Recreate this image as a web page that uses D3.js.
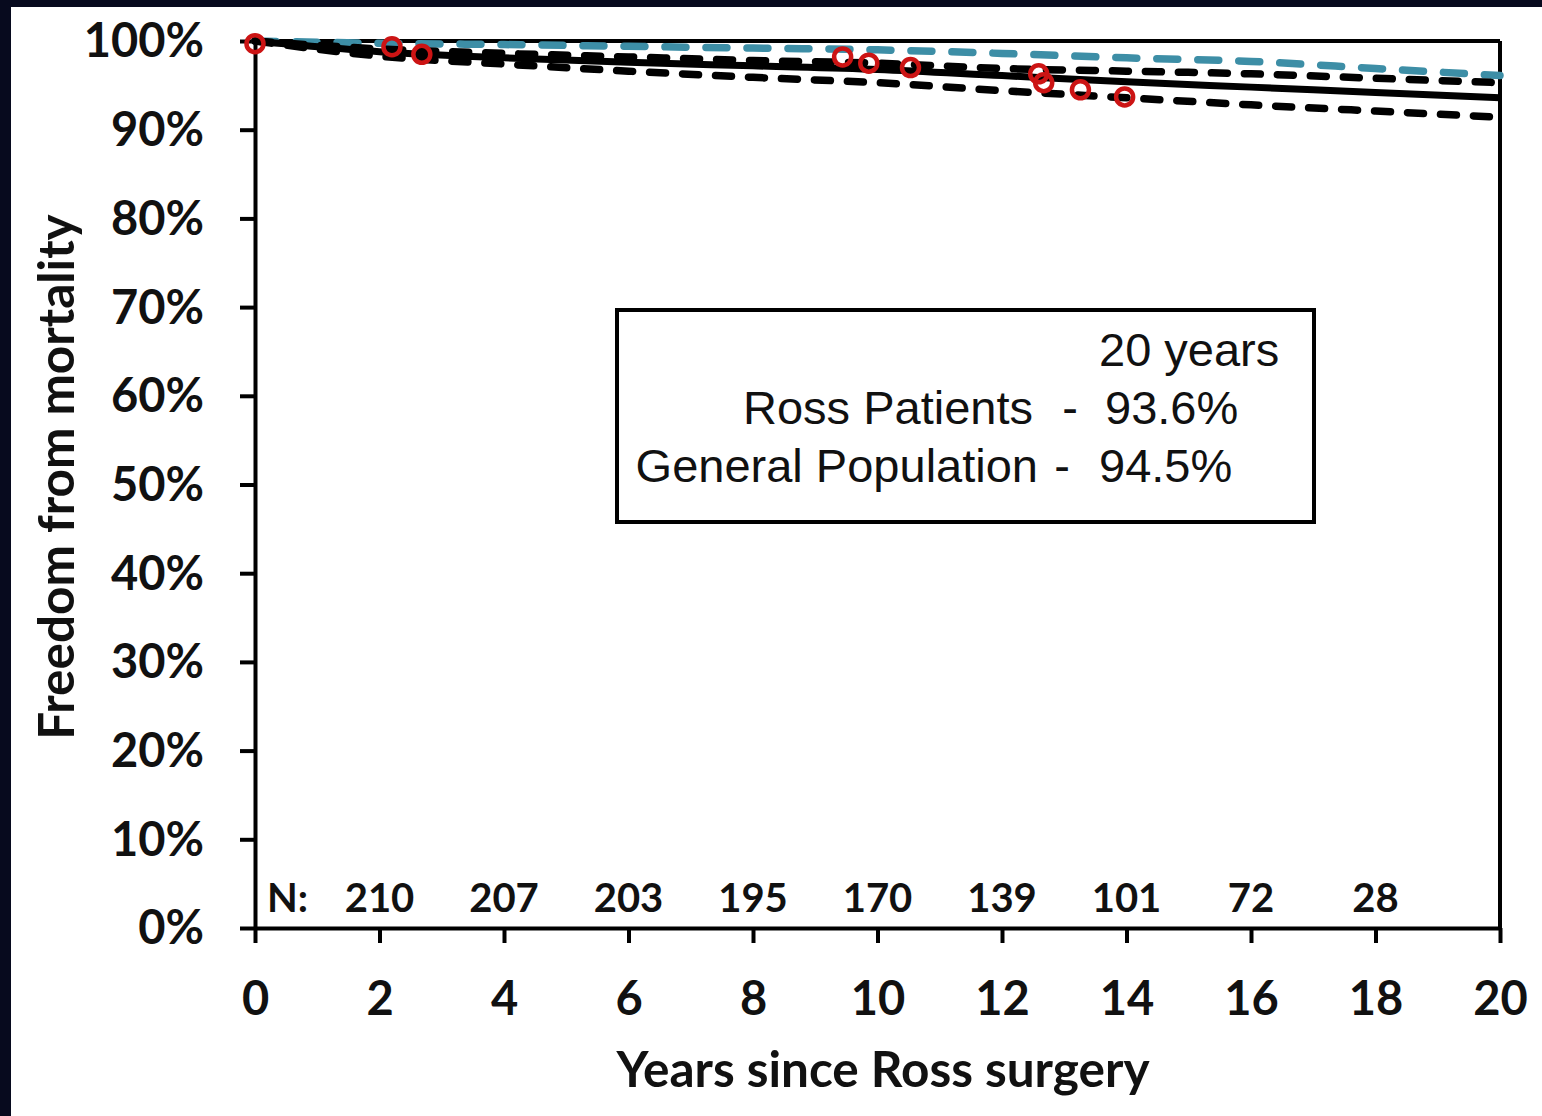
<!DOCTYPE html>
<html>
<head>
<meta charset="utf-8">
<script src="https://cdn.jsdelivr.net/npm/d3@7"></script>
<style>
  html, body { margin: 0; padding: 0; background: #ffffff; }
  svg { display: block; }
</style>
</head>
<body>
<svg id="chart" width="1542" height="1116"></svg>
<script>
// Follow-up time points (years since surgery)
const years = [0, 2, 4, 6, 8, 10, 12, 14, 16, 18, 20];
// Freedom from mortality (%)
const generalPopulation = [100, 99.75, 99.6, 99.4, 99.2, 99.0, 98.6, 98.1, 97.7, 96.9, 96.1];
const rossUpperCI       = [100, 99.1, 98.6, 98.2, 97.8, 97.5, 96.9, 96.6, 96.3, 95.8, 95.3];
const rossPatients      = [100, 98.8, 98.1, 97.6, 97.2, 96.8, 96.1, 95.4, 94.8, 94.2, 93.6];
const rossLowerCI       = [100, 98.3, 97.4, 96.6, 95.9, 95.3, 94.4, 93.6, 92.8, 92.1, 91.4];

// Observed events
const eventYears    = [0, 2.2, 2.68, 9.44, 9.86, 10.53, 12.59, 12.67, 13.26, 13.97];
const eventSurvival = [99.7, 99.35, 98.5, 98.2, 97.5, 97.0, 96.3, 95.3, 94.5, 93.7];

// Numbers at risk
const riskYears  = [2, 4, 6, 8, 10, 12, 14, 16, 18];
const riskCounts = [210, 207, 203, 195, 170, 139, 101, 72, 28];

const xTicks = [0, 2, 4, 6, 8, 10, 12, 14, 16, 18, 20];
const yTicks = [0, 10, 20, 30, 40, 50, 60, 70, 80, 90, 100];

// 20-year summary
const summaryHeader = "20 years";
const summaryLabels = ["Ross Patients", "General Population"];
const summaryValues = ["93.6%", "94.5%"];

const svg = d3.select("#chart");

// dark slide edge
svg.append("rect").attr("x", 0).attr("y", 0).attr("width", 1542).attr("height", 7).attr("fill", "#070a1e");
svg.append("rect").attr("x", 0).attr("y", 0).attr("width", 11).attr("height", 1116).attr("fill", "#070a1e");

const x = d3.scaleLinear().domain([0, 20]).range([255, 1500]);
const y = d3.scaleLinear().domain([0, 100]).range([928, 41]);

const tickFont = "Lato, 'Open Sans', sans-serif";
const boxFont = "'Liberation Sans', Arial, sans-serif";

// plot frame (top and right)
svg.append("line").attr("x1", x(0)).attr("x2", x(20)).attr("y1", y(100)).attr("y2", y(100))
  .attr("stroke", "#000").attr("stroke-width", 4);
svg.append("line").attr("x1", x(20)).attr("x2", x(20)).attr("y1", y(100)).attr("y2", y(0))
  .attr("stroke", "#000").attr("stroke-width", 4);

// axes
const yAxis = svg.append("g").attr("transform", `translate(${x(0)},0)`)
  .call(d3.axisLeft(y).tickValues(yTicks).tickFormat(d => d + "%").tickSize(15).tickSizeOuter(0).tickPadding(36));
const xAxis = svg.append("g").attr("transform", `translate(0,${y(0)})`)
  .call(d3.axisBottom(x).tickValues(xTicks).tickFormat(d3.format("d")).tickSize(15).tickSizeOuter(0).tickPadding(39));

[yAxis, xAxis].forEach(g => {
  g.select(".domain").attr("stroke", "#000").attr("stroke-width", 4);
  g.selectAll(".tick line").attr("stroke", "#000").attr("stroke-width", 4);
  g.selectAll(".tick text").attr("fill", "#111").style("font-family", tickFont)
    .style("font-weight", "700").style("font-size", "47px");
});
yAxis.selectAll(".tick text").attr("dy", "0.34em");

// survival curves
const line = d3.line().x(d => x(d[0])).y(d => y(d[1])).curve(d3.curveMonotoneX);
const series = [
  { values: generalPopulation, color: "#3d8ea6", dash: "21,20", width: 7.5 },
  { values: rossUpperCI, color: "#000", dash: "16,17", width: 7.5 },
  { values: rossLowerCI, color: "#000", dash: "16,17", width: 7.5 },
  { values: rossPatients, color: "#000", dash: null, width: 7 }
];
series.forEach(s => {
  svg.append("path")
    .datum(years.map((yr, i) => [yr, s.values[i]]))
    .attr("d", line)
    .attr("fill", "none")
    .attr("stroke", s.color)
    .attr("stroke-width", s.width)
    .attr("stroke-linecap", s.dash ? "round" : "butt")
    .attr("stroke-dasharray", s.dash);
});

// events
svg.append("g").selectAll("circle")
  .data(eventYears.map((yr, i) => [yr, eventSurvival[i]]))
  .join("circle")
  .attr("cx", d => x(d[0]))
  .attr("cy", d => y(d[1]))
  .attr("r", 8.5)
  .attr("fill", "none")
  .attr("stroke", "#cc1414")
  .attr("stroke-width", 4.5);

// numbers at risk
svg.append("text").attr("x", 267).attr("y", 912).text("N:")
  .style("font-family", tickFont).style("font-weight", "700").style("font-size", "40px").attr("fill", "#111");
svg.append("g").selectAll("text")
  .data(riskYears.map((yr, i) => [yr, riskCounts[i]]))
  .join("text")
  .attr("x", d => x(d[0]))
  .attr("y", 912)
  .attr("text-anchor", "middle")
  .text(d => d[1])
  .style("font-family", tickFont).style("font-weight", "700").style("font-size", "40px").attr("fill", "#111");

// axis titles
svg.append("text").attr("x", 883).attr("y", 1087).attr("text-anchor", "middle")
  .text("Years since Ross surgery")
  .style("font-family", tickFont).style("font-weight", "700").style("font-size", "49.5px").attr("fill", "#111");
svg.append("text").attr("transform", "translate(74,477) rotate(-90)").attr("text-anchor", "middle")
  .text("Freedom from mortality")
  .style("font-family", tickFont).style("font-weight", "700").style("font-size", "49.5px").attr("fill", "#111");

// summary box
svg.append("rect").attr("x", 617).attr("y", 310).attr("width", 697).attr("height", 212)
  .attr("fill", "#fff").attr("stroke", "#000").attr("stroke-width", 4);
const box = svg.append("g").style("font-family", boxFont).style("font-size", "47px").attr("fill", "#111");
box.append("text").attr("x", 1099).attr("y", 366).text(summaryHeader);
const rowY = [424, 482];
const labelEnd = [1033, 1038];
const dashX = [1070, 1062];
const valueStart = [1105, 1099];
box.selectAll("text.label").data(summaryLabels).join("text").attr("class", "label")
  .attr("x", (d, i) => labelEnd[i]).attr("y", (d, i) => rowY[i]).attr("text-anchor", "end").text(d => d);
box.selectAll("text.dash").data(summaryLabels).join("text").attr("class", "dash")
  .attr("x", (d, i) => dashX[i]).attr("y", (d, i) => rowY[i]).attr("text-anchor", "middle").text("-");
box.selectAll("text.value").data(summaryValues).join("text").attr("class", "value")
  .attr("x", (d, i) => valueStart[i]).attr("y", (d, i) => rowY[i]).text(d => d);
</script>
</body>
</html>
